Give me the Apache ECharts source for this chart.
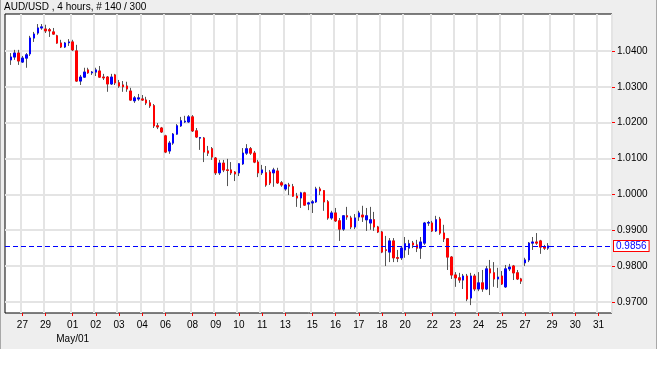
<!DOCTYPE html>
<html><head><meta charset="utf-8">
<script src="https://cdn.jsdelivr.net/npm/echarts@6/dist/echarts.min.js"></script>
<style>
html,body{margin:0;padding:0;background:#fff;}
#bg{position:absolute;left:0;top:0;width:655px;height:349px;background:#eeeeee;border-left:1px solid #a8a8a8;border-right:1px solid #a8a8a8;}
#chart{position:absolute;left:0;top:0;width:659px;height:367px;}
</style></head><body>
<div id="bg"></div><div id="chart"></div>
<script>
const TITLE = 'AUD/USD , 4 hours, # 140 / 300';

const opens = [
1.0375,1.0383,1.0394,1.0369,1.0380,1.0392,1.0436,1.0450,1.0464,1.0461,
1.0459,1.0453,1.0442,1.0422,1.0411,1.0423,1.0425,1.0400,1.0316,1.0327,
1.0347,1.0339,1.0341,1.0344,1.0327,1.0327,1.0308,1.0333,1.0311,1.0305,
1.0302,1.0288,1.0261,1.0266,1.0266,1.0263,1.0255,1.0247,1.0191,1.0185,
1.0163,1.0121,1.0143,1.0168,1.0191,1.0202,1.0202,1.0216,1.0177,1.0157,
1.0157,1.0121,1.0127,1.0101,1.0060,1.0087,1.0068,1.0068,1.0062,1.0060,
1.0085,1.0115,1.0127,1.0115,1.0090,1.0060,1.0060,1.0062,1.0060,1.0065,
1.0032,1.0015,1.0026,1.0021,0.9995,0.9990,1.0004,0.9973,0.9976,0.9979,
1.0015,1.0010,0.9979,0.9934,0.9948,0.9926,0.9903,0.9940,0.9934,0.9909,
0.9937,0.9942,0.9929,0.9920,0.9929,0.9909,0.9895,0.9845,0.9839,0.9870,
0.9823,0.9823,0.9845,0.9850,0.9864,0.9859,0.9850,0.9864,0.9920,0.9920,
0.9898,0.9931,0.9892,0.9876,0.9825,0.9775,0.9767,0.9761,0.9772,0.9711,
0.9772,0.9736,0.9753,0.9736,0.9792,0.9781,0.9764,0.9772,0.9742,0.9792,
0.9800,0.9781,0.9764,0.9809,0.9817,0.9864,0.9867,0.9870,0.9853,0.9850
];
const closes = [
1.0383,1.0394,1.0372,1.0380,1.0389,1.0436,1.0447,1.0464,1.0467,1.0456,
1.0456,1.0447,1.0422,1.0411,1.0422,1.0425,1.0403,1.0316,1.0327,1.0341,
1.0339,1.0341,1.0347,1.0327,1.0325,1.0308,1.0327,1.0311,1.0302,1.0300,
1.0294,1.0263,1.0269,1.0269,1.0263,1.0255,1.0247,1.0191,1.0188,1.0174,
1.0118,1.0143,1.0168,1.0191,1.0205,1.0204,1.0216,1.0177,1.0160,1.0158,
1.0118,1.0115,1.0104,1.0060,1.0087,1.0068,1.0067,1.0060,1.0057,1.0085,
1.0115,1.0127,1.0115,1.0090,1.0060,1.0068,1.0026,1.0032,1.0068,1.0032,
1.0026,1.0026,1.0023,0.9995,0.9990,1.0004,0.9970,0.9976,0.9979,1.0015,
1.0010,0.9979,0.9934,0.9948,0.9926,0.9903,0.9940,0.9937,0.9909,0.9934,
0.9948,0.9937,0.9940,0.9929,0.9909,0.9895,0.9839,0.9844,0.9870,0.9823,
0.9822,0.9850,0.9862,0.9862,0.9859,0.9850,0.9867,0.9920,0.9921,0.9898,
0.9929,0.9892,0.9876,0.9825,0.9775,0.9767,0.9761,0.9772,0.9708,0.9772,
0.9736,0.9753,0.9736,0.9792,0.9781,0.9764,0.9769,0.9750,0.9792,0.9797,
0.9781,0.9764,0.9758,0.9817,0.9864,0.9867,0.9864,0.9853,0.9850,0.9856
];
const lows = [
1.0361,1.0375,1.0361,1.0367,1.0353,1.0386,1.0425,1.0445,1.0459,1.0450,
1.0439,1.0445,1.0420,1.0408,1.0408,1.0414,1.0400,1.0314,1.0305,1.0325,
1.0336,1.0333,1.0330,1.0325,1.0319,1.0286,1.0305,1.0305,1.0297,1.0286,
1.0286,1.0261,1.0255,1.0261,1.0261,1.0249,1.0241,1.0185,1.0182,1.0171,
1.0115,1.0113,1.0138,1.0166,1.0188,1.0199,1.0199,1.0174,1.0157,1.0124,
1.0090,1.0107,1.0096,1.0054,1.0054,1.0062,1.0023,1.0054,1.0037,1.0051,
1.0082,1.0110,1.0110,1.0087,1.0048,1.0054,1.0021,1.0026,1.0021,1.0029,
1.0021,1.0010,0.9998,0.9993,0.9965,0.9962,0.9968,0.9956,0.9948,0.9976,
0.9998,0.9954,0.9929,0.9929,0.9923,0.9870,0.9898,0.9929,0.9903,0.9903,
0.9926,0.9923,0.9898,0.9901,0.9898,0.9892,0.9836,0.9800,0.9811,0.9811,
0.9811,0.9817,0.9823,0.9831,0.9850,0.9839,0.9820,0.9859,0.9912,0.9895,
0.9895,0.9887,0.9867,0.9789,0.9764,0.9742,0.9753,0.9736,0.9702,0.9691,
0.9730,0.9730,0.9728,0.9733,0.9719,0.9742,0.9739,0.9747,0.9739,0.9786,
0.9761,0.9761,0.9750,0.9800,0.9811,0.9845,0.9859,0.9834,0.9845,0.9845
];
const highs = [
1.0394,1.0403,1.0403,1.0386,1.0394,1.0442,1.0453,1.0475,1.0475,1.0473,
1.0464,1.0464,1.0445,1.0431,1.0425,1.0433,1.0431,1.0417,1.0333,1.0353,
1.0353,1.0344,1.0353,1.0358,1.0336,1.0330,1.0336,1.0336,1.0319,1.0316,
1.0314,1.0297,1.0274,1.0280,1.0277,1.0272,1.0263,1.0252,1.0199,1.0188,
1.0166,1.0149,1.0171,1.0196,1.0216,1.0219,1.0221,1.0221,1.0185,1.0160,
1.0160,1.0135,1.0132,1.0104,1.0096,1.0096,1.0099,1.0090,1.0065,1.0087,
1.0129,1.0140,1.0132,1.0121,1.0096,1.0082,1.0079,1.0068,1.0074,1.0074,
1.0037,1.0029,1.0032,1.0029,1.0004,1.0007,1.0007,0.9979,0.9984,1.0021,
1.0021,1.0012,0.9984,0.9954,0.9962,0.9934,0.9942,0.9965,0.9940,0.9945,
0.9954,0.9968,0.9962,0.9965,0.9951,0.9912,0.9898,0.9884,0.9878,0.9878,
0.9845,0.9856,0.9881,0.9873,0.9870,0.9873,0.9881,0.9923,0.9926,0.9926,
0.9940,0.9937,0.9915,0.9878,0.9828,0.9783,0.9781,0.9778,0.9778,0.9781,
0.9778,0.9783,0.9789,0.9800,0.9817,0.9811,0.9795,0.9786,0.9803,0.9806,
0.9803,0.9789,0.9767,0.9823,0.9867,0.9881,0.9892,0.9873,0.9859,0.9864
];

// x axis: 4-hour slots (one leading empty slot, trailing empty future slots)
const SLOT_COUNT = 157;
const FIRST_SLOT = 1;
const tickSlots  = [4,10,17,23,29,35,41,48,54,60,66,72,79,85,91,97,103,110,116,122,128,134,141,147,153];
const tickLabels = ['27','29','01','02','03','04','06','08','09','10','11','13','15','16','17','18','20','22','23','24','25','27','29','30','31'];
const monthLabelSlot = 17;
const monthLabel = 'May/01';

const yTicks = [0.97,0.98,0.99,1.00,1.01,1.02,1.03,1.04];
const Y_MIN = 0.9669, Y_MAX = 1.0503;

const FONT = "'Liberation Sans', Arial, sans-serif";

const slots = Array.from({length: SLOT_COUNT}, (_, i) => String(i));
const tickMap = new Map(tickSlots.map((s, k) => [s, tickLabels[k]]));
const isTick = (idx) => tickMap.has(idx);

const wickData = [];
const bodyData = [];
for (let i = 0; i < FIRST_SLOT; i++) { wickData.push(['-','-','-','-']); bodyData.push(['-','-','-','-']); }
for (let i = 0; i < opens.length; i++) {
  wickData.push([opens[i], closes[i], lows[i], highs[i]]);
  bodyData.push([opens[i], closes[i], Math.min(opens[i], closes[i]), Math.max(opens[i], closes[i])]);
}
const lastClose = closes[closes.length - 1];

const chart = echarts.init(document.getElementById('chart'), null, {renderer: 'canvas'});
chart.setOption({
  animation: false,
  backgroundColor: 'transparent',
  textStyle: {fontFamily: FONT},
  title: {text: TITLE, left: 4, top: 2, padding: 0,
    textStyle: {fontSize: 10, fontWeight: 'normal', color: '#000', fontFamily: FONT}},
  grid: {left: 5, top: 14, width: 607, height: 299, show: true, backgroundColor: '#fff',
    borderColor: '#000', borderWidth: 1},
  xAxis: {
    type: 'category', data: slots, boundaryGap: true,
    axisLine: {show: false},
    axisTick: {show: true, alignWithLabel: true, interval: isTick, length: 3, lineStyle: {color: '#ff0000'}},
    axisLabel: {interval: isTick, fontSize: 10, color: '#000', margin: 5, lineHeight: 14, fontFamily: FONT,
      formatter: (v, i) => {
        const idx = Number(v);
        const t = tickMap.get(idx) || '';
        return idx === monthLabelSlot ? t + '\n' + monthLabel : t;
      }},
    splitLine: {show: true, interval: isTick, lineStyle: {color: '#e4e4e4', width: 2}}
  },
  yAxis: {
    type: 'value', position: 'right', min: Y_MIN, max: Y_MAX,
    axisLine: {show: false},
    axisTick: {show: true, customValues: yTicks, length: 3, lineStyle: {color: '#ff0000'}},
    axisLabel: {customValues: yTicks, formatter: v => v.toFixed(4), fontSize: 10, color: '#000', margin: 5, fontFamily: FONT},
    splitLine: {show: true, lineStyle: {color: '#e4e4e4', width: 2}}
  },
  series: [
    {type: 'candlestick', name: 'wick', data: wickData, barWidth: 2, z: 2, silent: true,
      itemStyle: {color: '#555', color0: '#555', borderColor: '#555', borderColor0: '#555', borderWidth: 1}},
    {type: 'candlestick', name: 'body', data: bodyData, barWidth: 2, z: 3, silent: true,
      itemStyle: {color: '#0000ff', color0: '#ff0000', borderColor: '#0000ff', borderColor0: '#ff0000', borderWidth: 1},
      markLine: {symbol: 'none', silent: true, animation: false, precision: 4,
        data: [{yAxis: lastClose}],
        lineStyle: {color: '#0000ff', type: [5, 3], width: 1},
        label: {show: true, position: 'end', distance: 2, formatter: lastClose.toFixed(4),
          color: '#0000ff', backgroundColor: '#fff', borderColor: '#ff0000', borderWidth: 1,
          padding: [0, 2, 0, 2], fontSize: 10, fontFamily: FONT}
      }}
  ]
});
</script>
</body></html>
